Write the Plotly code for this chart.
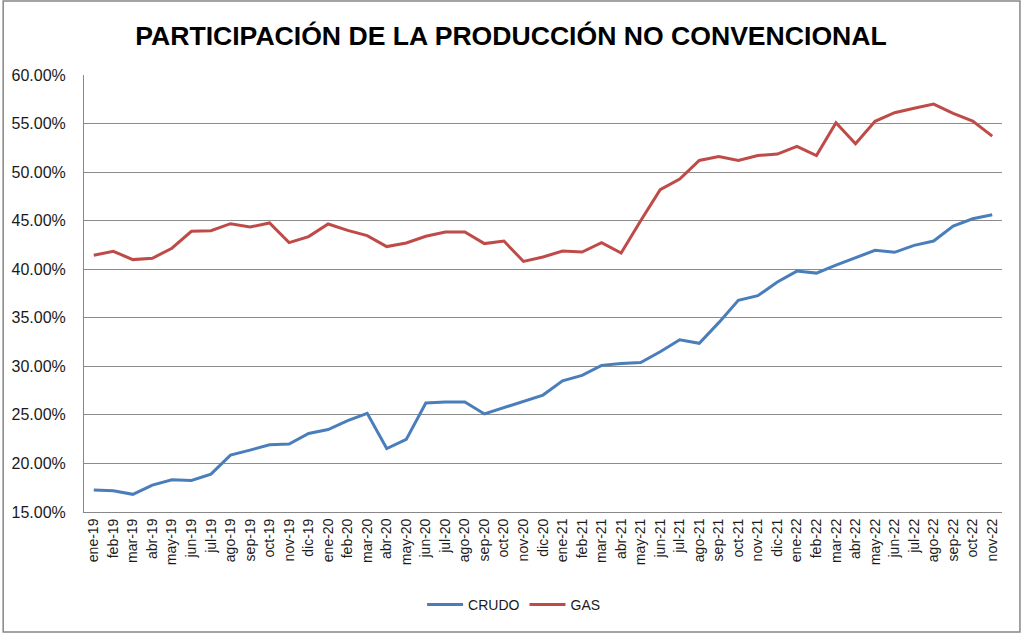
import plotly.graph_objects as go

months = ["ene-19","feb-19","mar-19","abr-19","may-19","jun-19","jul-19","ago-19","sep-19","oct-19","nov-19","dic-19",
          "ene-20","feb-20","mar-20","abr-20","may-20","jun-20","jul-20","ago-20","sep-20","oct-20","nov-20","dic-20",
          "ene-21","feb-21","mar-21","abr-21","may-21","jun-21","jul-21","ago-21","sep-21","oct-21","nov-21","dic-21",
          "ene-22","feb-22","mar-22","abr-22","may-22","jun-22","jul-22","ago-22","sep-22","oct-22","nov-22"]

crudo = [17.26,17.19,16.82,17.77,18.32,18.25,18.90,20.86,21.37,21.92,21.99,23.08,
         23.49,24.42,25.17,21.54,22.47,26.23,26.34,26.34,25.10,25.75,26.40,27.04,
         28.50,29.07,30.10,30.30,30.40,31.50,32.74,32.37,34.50,36.80,37.27,38.68,
         39.81,39.60,40.43,41.18,41.94,41.74,42.46,42.90,44.45,45.20,45.60]

gas = [41.44,41.85,40.99,41.13,42.16,43.90,43.97,44.69,44.35,44.76,42.74,43.36,
       44.66,44.00,43.46,42.33,42.70,43.39,43.84,43.84,42.64,42.90,40.80,41.26,
       41.87,41.77,42.73,41.67,45.00,48.19,49.29,51.20,51.60,51.20,51.70,51.86,
       52.65,51.70,55.09,52.93,55.23,56.12,56.57,57.00,56.05,55.26,53.70]

series = [("CRUDO", crudo, "#4A7EBB"), ("GAS", gas, "#BE4B48")]

fig = go.Figure()
for name, vals, color in series:
    fig.add_trace(go.Scatter(x=months, y=[v / 100 for v in vals], name=name, mode="lines",
                             line=dict(color=color, width=3)))

W, H = 1022, 634
ml, mr, mt, mb = 82, 20, 75, 122
pw, ph = W - ml - mr, H - mt - mb

fig.update_layout(
    width=W, height=H,
    margin=dict(l=ml, r=mr, t=mt, b=mb),
    paper_bgcolor="white", plot_bgcolor="white",
    font=dict(family="Liberation Sans, Arial, sans-serif", color="#1a1a1a"),
    title=dict(text="<b>PARTICIPACIÓN DE LA PRODUCCIÓN NO CONVENCIONAL</b>",
               x=0.5, xanchor="center", y=1 - 36 / H, yanchor="middle",
               font=dict(size=26.6, color="#000000")),
    showlegend=True,
    legend=dict(orientation="h", x=(513 - ml) / pw, xanchor="center", y=-(605 - 512) / ph, yanchor="middle",
                font=dict(size=14), itemwidth=36, bgcolor="rgba(0,0,0,0)"),
    xaxis=dict(type="category", tickangle=-90, tickfont=dict(size=14), showgrid=False,
               showline=True, linecolor="#888888", linewidth=1, ticks="", range=[-0.5, len(months) - 0.5]),
    yaxis=dict(range=[0.15, 0.60], dtick=0.05, tick0=0.15, tickformat=".2%", tickfont=dict(size=16),
               showgrid=True, gridcolor="#8C8C8C", gridwidth=1, showline=True, linecolor="#888888",
               linewidth=1, zeroline=False, ticks="", ticklen=0, ticklabelstandoff=14),
    shapes=[dict(type="rect", xref="paper", yref="paper",
                 x0=(1 - ml) / pw, x1=(W - 2 - ml) / pw,
                 y0=(mt + ph - (H - 2)) / ph, y1=(mt + ph - 1) / ph,
                 line=dict(color="#868686", width=1.5), fillcolor="rgba(0,0,0,0)", layer="below")],
)

fig.write_html("out.html", config={"displayModeBar": False},
               post_script="document.body.style.margin='0';document.body.style.padding='0';")
